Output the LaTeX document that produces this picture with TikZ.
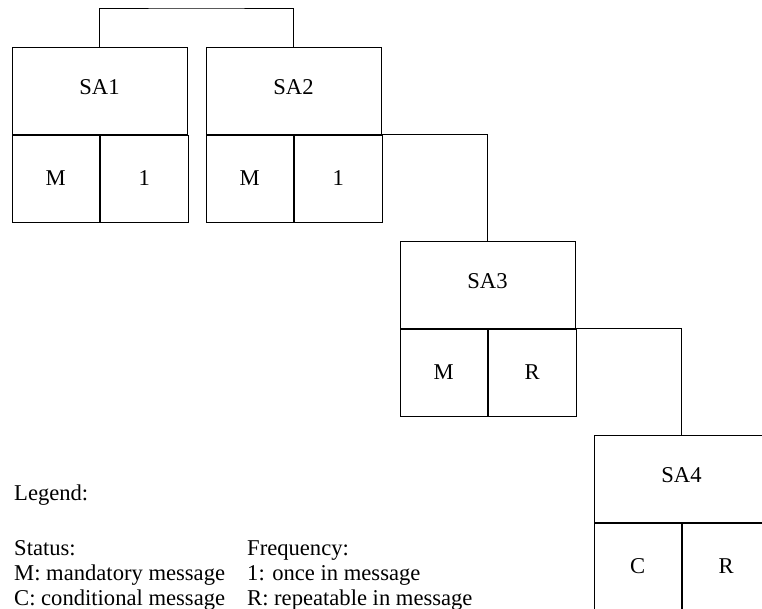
\documentclass[tikz,border=0pt]{standalone}
\usepackage{fontspec}
\setmainfont{Liberation Serif}
\usetikzlibrary{positioning}

\tikzset{
    namecell/.style={draw, line width=1pt, minimum width=175pt, minimum height=87pt, inner sep=0pt, text depth=0.35em},
    flagcell/.style={draw, line width=1pt, minimum width=87.5pt, minimum height=87pt, inner sep=0pt},
    link/.style={line width=1pt},
    legendtext/.style={anchor=base west, inner sep=0pt}
}

\begin{document}
\begin{tikzpicture}[x=1pt,y=-1pt]
    \fontsize{22.6}{25}\selectfont
    \useasboundingbox (0,0) rectangle (762,608);

    % segment groups
    \node[namecell] (sa1) at (99.5,90.5) {SA1};
    \node[flagcell, anchor=north west] (sa1s) at (sa1.south west) {M};
    \node[flagcell, right=0pt of sa1s] (sa1f) {1};

    \node[namecell] (sa2) at (293.5,90.5) {SA2};
    \node[flagcell, anchor=north west] (sa2s) at (sa2.south west) {M};
    \node[flagcell, right=0pt of sa2s] (sa2f) {1};

    \node[namecell] (sa3) at (487.5,284.5) {SA3};
    \node[flagcell, anchor=north west] (sa3s) at (sa3.south west) {M};
    \node[flagcell, right=0pt of sa3s] (sa3f) {R};

    \node[namecell] (sa4) at (681.5,478.5) {SA4};
    \node[flagcell, anchor=north west] (sa4s) at (sa4.south west) {C};
    \node[flagcell, right=0pt of sa4s] (sa4f) {R};

    % links
    \coordinate (top) at (196.5,8);
    \draw[link] (sa1.north) |- (top) -| (sa2.north);
    \draw[link] (sa2.south east) -| (sa3.north);
    \draw[link] (sa3.south east) -| (sa4.north);

    % legend
    \node[legendtext] (leg) at (14,500) {Legend:};
    \node[legendtext] (stat) at (14,555) {Status:};
    \node[legendtext] (statm) at (14,580) {M: mandatory message};
    \node[legendtext] (statc) at (14,605.5) {C: conditional message};
    \node[legendtext] (freq) at (247,555) {Frequency:};
    \node[legendtext] (freq1) at (247,580) {1: once in message};
    \node[legendtext] (freqr) at (247,605.5) {R: repeatable in message};
\end{tikzpicture}
\end{document}
